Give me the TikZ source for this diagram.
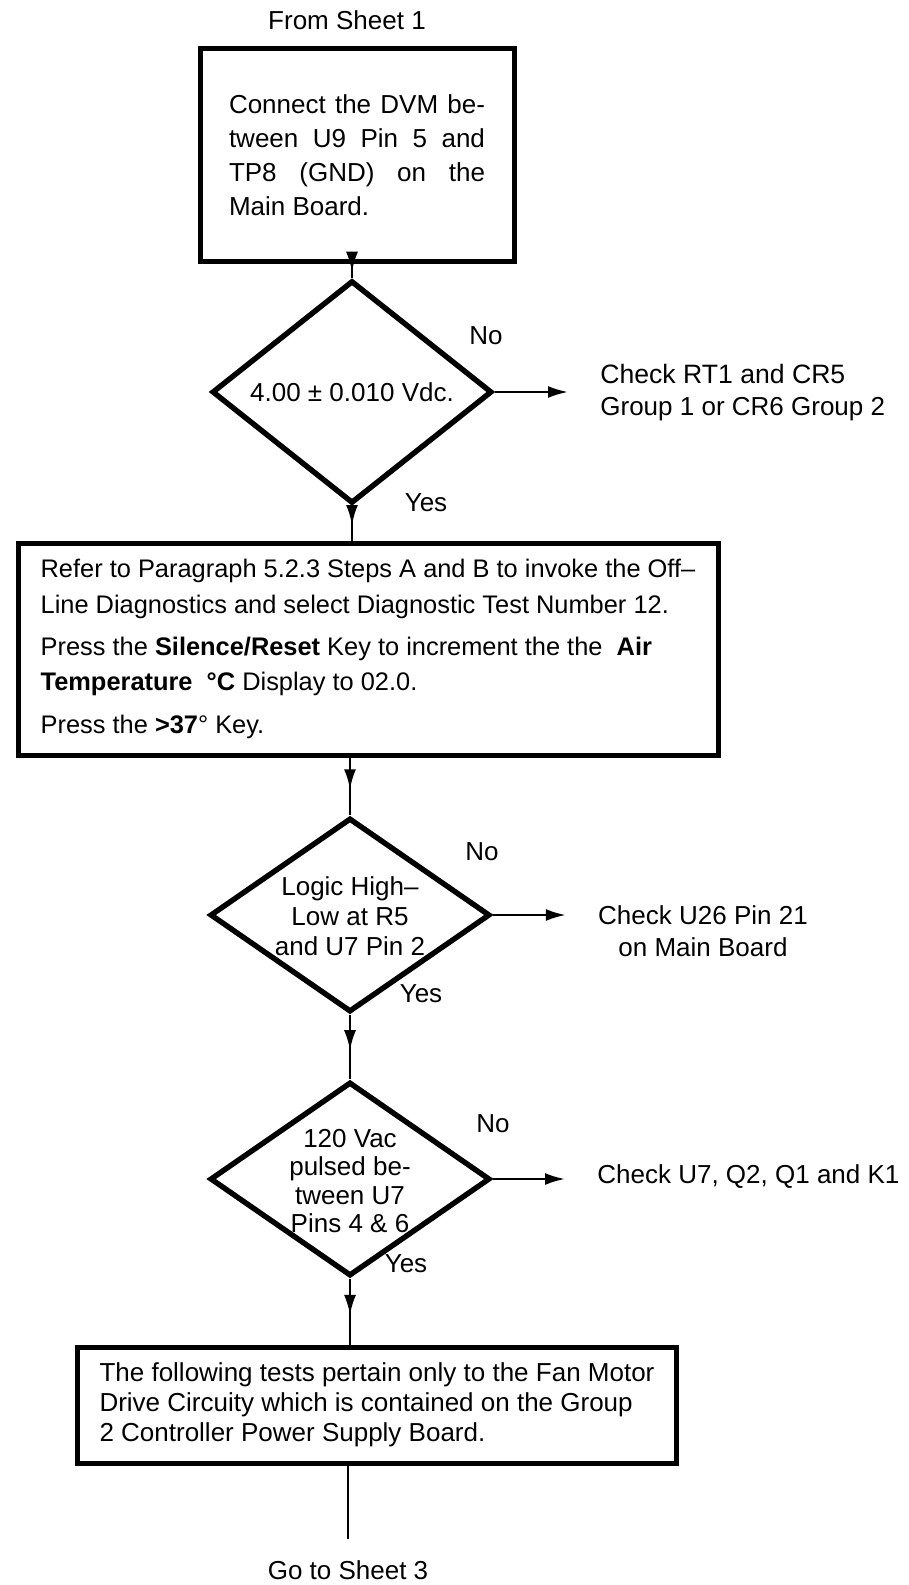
\documentclass[tikz,border=0pt]{standalone}
\usepackage{fontspec}
\setmainfont{Liberation Sans}
\usetikzlibrary{shapes.geometric, arrows.meta, decorations.markings}

\begin{document}
\begin{tikzpicture}[x=0.5pt, y=-0.5pt,
   font=\fontsize{13}{16}\selectfont,
   stepbox/.style={draw, line width=2.5pt, rectangle, inner sep=0pt},
   decision/.style={draw, line width=2.7pt, diamond, inner sep=0pt,
      minimum width=140pt, minimum height=97pt},
   dtext/.style={align=center, inner sep=0pt},
   note/.style={align=left, inner sep=3pt},
   flow/.style={line width=1.2pt, decoration={markings,
      mark=at position 0.55 with {\arrow{Latex[length=10pt,width=6pt]}}},
      postaction={decorate}},
   sidearrow/.style={line width=1.2pt, -{Latex[length=10pt,width=6pt]}, shorten >=13pt}]
   \useasboundingbox (0,0) rectangle (909,1585);

   \node (start) at (347,20) {From Sheet 1};
   \node[stepbox, minimum width=157pt, minimum height=106.5pt, text width=128pt,
      align=justify, font=\fontsize{13}{17}\selectfont] (b1) at (357,155)
      {Connect the DVM be-\linebreak tween U9 Pin 5 and\linebreak TP8 (GND) on the\linebreak Main Board.};

   \node[decision] (d1) at (352,392) {4.00 ± 0.010 Vdc.};
   \node (no1) at (486,336) {No};
   \node (yes1) at (426,503) {Yes};
   \node[note, anchor=west] (c1) at (594,393)
      {\fontsize{13.3}{16.5}\selectfont Check RT1 and CR5\\Group 1 or CR6 Group 2};

   \node[stepbox, minimum width=350pt, minimum height=106pt,
      align=left, font=\fontsize{12.7}{17.7}\selectfont] (b2) at (368,649)
      {Refer to Paragraph 5.2.3 Steps A and B to invoke the Off–\\
       Line Diagnostics and select Diagnostic Test Number 12.\\[3.5pt]
       Press the \textbf{Silence/Reset} Key to increment the the\ \ \textbf{Air}\\
       \textbf{Temperature\ \ °C} Display to 02.0.\\[3.5pt]
       Press the \textbf{>37}° Key.};

   \node[decision] (d2) at (350,915) {};
   \node[dtext, font=\fontsize{13}{15}\selectfont] (d2t) at (350,916)
      {Logic High–\\Low at R5\\and U7 Pin 2};
   \node (no2) at (482,852) {No};
   \node (yes2) at (421,994) {Yes};
   \node[note, align=center] (c2) at (703,931)
      {Check U26 Pin 21\\on Main Board};

   \node[decision] (d3) at (350,1179) {};
   \node[dtext, font=\fontsize{13}{14.2}\selectfont] (d3t) at (350,1181)
      {120 Vac\\pulsed be-\\tween U7\\Pins 4 \& 6};
   \node (no3) at (493,1124) {No};
   \node (yes3) at (406,1264) {Yes};
   \node[note, anchor=west] (c3) at (591,1177) {Check U7, Q2, Q1 and K1};

   \node[stepbox, minimum width=299.5pt, minimum height=58pt,
      align=left, font=\fontsize{13}{15}\selectfont] (b4) at (377,1405)
      {The following tests pertain only to the Fan Motor\\
       Drive Circuity which is contained on the Group\\
       2 Controller Power Supply Board.};
   \node (stop) at (348,1570) {Go to Sheet 3};

   % main flow
   \draw[flow] (b1.south -| d1.north) -- (d1.north);
   \draw[flow] (d1.south) -- (d1.south |- b2.north);
   \draw[flow] (b2.south -| d2.north) -- (d2.north);
   \draw[flow] (d2.south) -- (d3.north);
   \draw[flow] (d3.south) -- (d3.south |- b4.north);
   \draw[line width=1.2pt, shorten >=7pt] (b4.south -| stop.north) -- (stop.north);

   % no branches
   \draw[sidearrow] (d1.east) -- (d1.east -| c1.west);
   \draw[sidearrow] (d2.east) -- (d2.east -| c2.west);
   \draw[sidearrow] (d3.east) -- (d3.east -| c3.west);
\end{tikzpicture}
\end{document}
